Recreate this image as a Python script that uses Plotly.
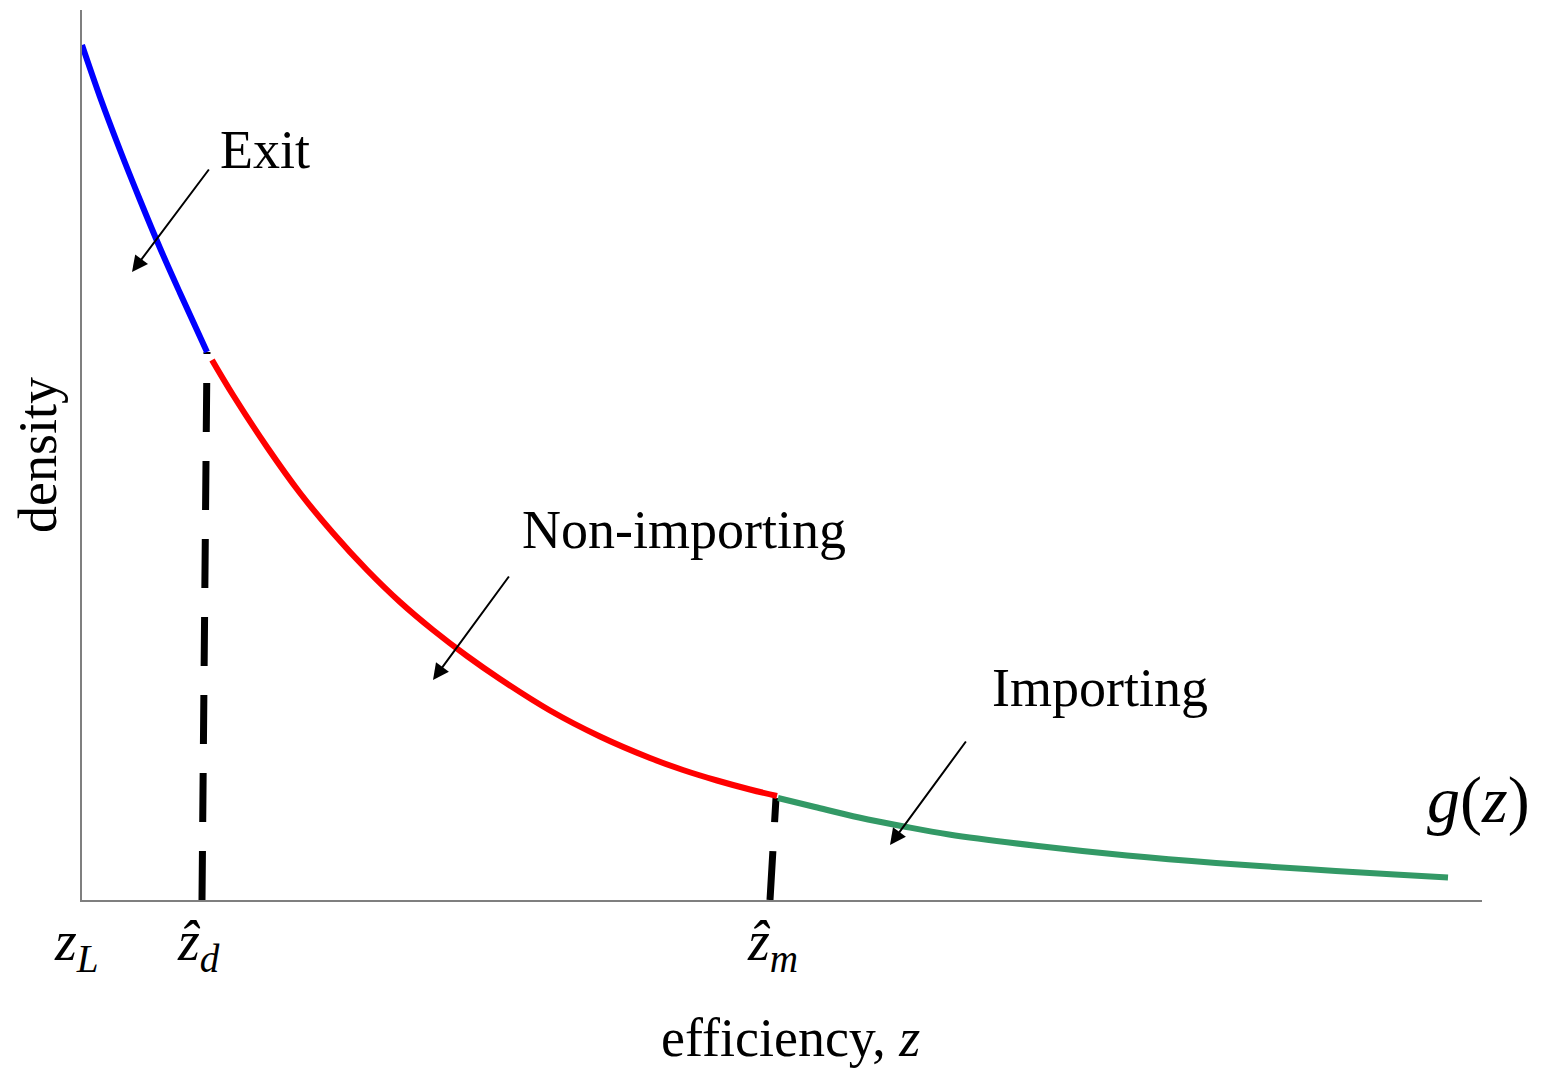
import plotly.graph_objects as go

# curve (z = efficiency, g = density), three regimes
exit_z = [0.00, 0.18, 0.38, 0.58, 0.78, 0.98, 1.25]
exit_g = [8.55, 8.03, 7.50, 7.00, 6.52, 6.07, 5.48]

nonimp_z = [1.30, 1.51, 1.85, 2.18, 2.51, 2.85, 3.18, 3.51, 3.85, 4.18,
            4.68, 5.18, 5.68, 6.01, 6.35, 6.68, 6.95]
nonimp_g = [5.40, 5.05, 4.53, 4.07, 3.67, 3.30, 2.98, 2.70, 2.44, 2.21,
            1.895, 1.635, 1.42, 1.30, 1.195, 1.105, 1.04]

imp_z = [6.96, 7.33, 7.77, 8.22, 8.67, 9.56, 10.45, 11.34, 12.24, 13.13, 13.66]
imp_g = [1.02, 0.93, 0.825, 0.735, 0.655, 0.54, 0.445, 0.37, 0.31, 0.255, 0.225]

# cutoffs (dashed verticals, drawn bottom -> curve)
zd_x = [1.20, 1.25]
zd_y = [0.0, 5.48]
zm_x = [6.88, 6.94]
zm_y = [0.0, 1.02]

# labels under the axis, x in paper units of the plot area
tick_pos = [-0.0036, 0.0829, 0.4929]
tick_text = ["<i>z</i><sub><i>L</i></sub>",
             "<i>\u1e91</i><sub><i>d</i></sub>",
             "<i>\u1e91</i><sub><i>m</i></sub>"]

FONT = "Liberation Serif"

fig = go.Figure()

for xs, ys in [(zd_x, zd_y), (zm_x, zm_y)]:
    fig.add_trace(go.Scatter(x=xs, y=ys, mode="lines",
                             line=dict(color="black", width=7, dash="49px,29px"),
                             hoverinfo="skip"))

fig.add_trace(go.Scatter(x=exit_z, y=exit_g, mode="lines", line_shape="spline",
                         line=dict(color="#0000ff", width=6), name="Exit"))
fig.add_trace(go.Scatter(x=nonimp_z, y=nonimp_g, mode="lines", line_shape="spline",
                         line=dict(color="#ff0000", width=6), name="Non-importing"))
fig.add_trace(go.Scatter(x=imp_z, y=imp_g, mode="lines", line_shape="spline",
                         line=dict(color="#339966", width=6), name="Importing"))

# region labels + arrows
labels = [("Exit", 1.36, 7.50, 0.50, 6.28, 1.28, 7.32),
          ("Non-importing", 4.38, 3.70, 3.51, 2.20, 4.28, 3.25),
          ("Importing", 9.08, 2.12, 8.08, 0.55, 8.85, 1.60)]
for txt, tx, ty, hx, hy, sx, sy in labels:
    fig.add_annotation(x=tx, y=ty, text=txt, showarrow=False, xanchor="left",
                       font=dict(size=54))
    fig.add_annotation(x=hx, y=hy, ax=sx, ay=sy, axref="x", ayref="y", text="",
                       showarrow=True, arrowhead=2, arrowsize=1.6, arrowwidth=2,
                       arrowcolor="black")

fig.add_annotation(x=13.96, y=1.0, text="<i>g</i>(<i>z</i>)", showarrow=False,
                   font=dict(size=66))

for tx, txt in zip(tick_pos, tick_text):
    fig.add_annotation(x=tx, y=-0.05, xref="paper", yref="paper", text=txt,
                       xanchor="center", yanchor="middle",
                       showarrow=False, font=dict(size=56))

fig.add_annotation(x=0.506, y=-0.155, xref="paper", yref="paper",
                   xanchor="center", yanchor="middle",
                   text="efficiency, <i>z</i>", showarrow=False, font=dict(size=54))
fig.add_annotation(x=-0.0314, y=0.50, xref="paper", yref="paper", text="density",
                   xanchor="center", yanchor="middle",
                   textangle=-90, showarrow=False, font=dict(size=54))

fig.update_layout(
    width=1535, height=1063,
    margin=dict(l=74, r=61, t=2, b=171),
    plot_bgcolor="white", paper_bgcolor="white",
    showlegend=False,
    font=dict(family=FONT, color="black"),
    xaxis=dict(range=[0, 14], showgrid=False, zeroline=False, showticklabels=False,
               ticks="", showline=True, linecolor="#7f7f7f", linewidth=1.5),
    yaxis=dict(range=[0, 8.9], showgrid=False, zeroline=False, showticklabels=False,
               ticks="", showline=True, linecolor="#7f7f7f", linewidth=1.5),
)

fig.write_html("out.html")
